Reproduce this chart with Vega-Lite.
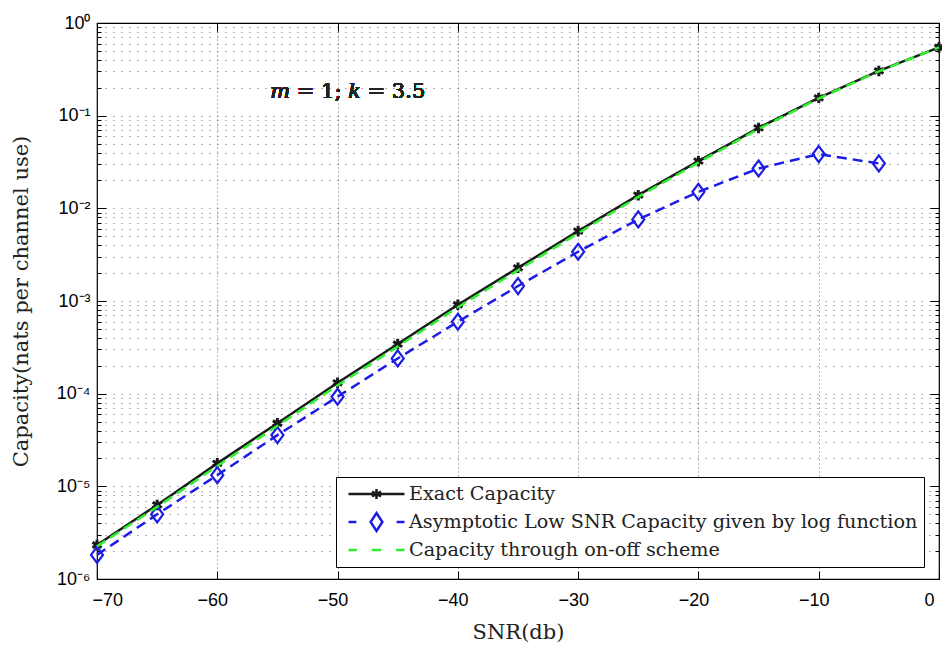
{
  "$schema": "https://vega.github.io/schema/vega-lite/v6.json",
  "width": 842,
  "height": 556,
  "autosize": {"type": "none"},
  "padding": {"left": 97, "top": 23, "right": 3, "bottom": 68},
  "background": "white",
  "config": {
    "view": {"stroke": "#000", "strokeWidth": 1.2},
    "axis": {
      "domain": false,
      "labelFont": "Liberation Sans",
      "labelFontSize": 18,
      "labelColor": "#000",
      "titleFont": "DejaVu Serif",
      "titleFontSize": 21,
      "titleFontWeight": "normal",
      "titleColor": "#222",
      "tickColor": "#000",
      "tickWidth": 1
    },
    "legend": {
      "strokeColor": "#000",
      "fillColor": "#fff",
      "padding": 6,
      "labelFont": "DejaVu Serif",
      "labelFontSize": 19.2,
      "labelColor": "#222",
      "labelLimit": 900,
      "symbolSize": 3136,
      "symbolStrokeWidth": 2.5,
      "symbolOpacity": 1,
      "symbolOffset": 5,
      "clipHeight": 22,
      "rowPadding": 6,
      "labelOffset": 3
    }
  },
  "data": {
    "values": [
      {"snr": -70, "cap": 2.33e-6, "series": "Exact Capacity"},
      {"snr": -65, "cap": 6.3e-6, "series": "Exact Capacity"},
      {"snr": -60, "cap": 1.77e-5, "series": "Exact Capacity"},
      {"snr": -55, "cap": 4.8e-5, "series": "Exact Capacity"},
      {"snr": -50, "cap": 1.31e-4, "series": "Exact Capacity"},
      {"snr": -45, "cap": 3.43e-4, "series": "Exact Capacity"},
      {"snr": -40, "cap": 9.1e-4, "series": "Exact Capacity"},
      {"snr": -35, "cap": 2.28e-3, "series": "Exact Capacity"},
      {"snr": -30, "cap": 5.68e-3, "series": "Exact Capacity"},
      {"snr": -25, "cap": 1.387e-2, "series": "Exact Capacity"},
      {"snr": -20, "cap": 3.23e-2, "series": "Exact Capacity"},
      {"snr": -15, "cap": 7.38e-2, "series": "Exact Capacity"},
      {"snr": -10, "cap": 0.1556, "series": "Exact Capacity"},
      {"snr": -5, "cap": 0.304, "series": "Exact Capacity"},
      {"snr": 0, "cap": 0.545, "series": "Exact Capacity"},
      {"snr": -70, "cap": 1.82e-6, "series": "Asymptotic Low SNR Capacity given by log function"},
      {"snr": -65, "cap": 4.99e-6, "series": "Asymptotic Low SNR Capacity given by log function"},
      {"snr": -60, "cap": 1.32e-5, "series": "Asymptotic Low SNR Capacity given by log function"},
      {"snr": -55, "cap": 3.57e-5, "series": "Asymptotic Low SNR Capacity given by log function"},
      {"snr": -50, "cap": 9.27e-5, "series": "Asymptotic Low SNR Capacity given by log function"},
      {"snr": -45, "cap": 2.4e-4, "series": "Asymptotic Low SNR Capacity given by log function"},
      {"snr": -40, "cap": 5.97e-4, "series": "Asymptotic Low SNR Capacity given by log function"},
      {"snr": -35, "cap": 1.45e-3, "series": "Asymptotic Low SNR Capacity given by log function"},
      {"snr": -30, "cap": 3.4e-3, "series": "Asymptotic Low SNR Capacity given by log function"},
      {"snr": -25, "cap": 7.6e-3, "series": "Asymptotic Low SNR Capacity given by log function"},
      {"snr": -20, "cap": 1.507e-2, "series": "Asymptotic Low SNR Capacity given by log function"},
      {"snr": -15, "cap": 2.69e-2, "series": "Asymptotic Low SNR Capacity given by log function"},
      {"snr": -10, "cap": 3.85e-2, "series": "Asymptotic Low SNR Capacity given by log function"},
      {"snr": -5, "cap": 3.05e-2, "series": "Asymptotic Low SNR Capacity given by log function"},
      {"snr": -70, "cap": 2.25e-6, "series": "Capacity through on-off scheme"},
      {"snr": -65, "cap": 6.0e-6, "series": "Capacity through on-off scheme"},
      {"snr": -60, "cap": 1.66e-5, "series": "Capacity through on-off scheme"},
      {"snr": -55, "cap": 4.5e-5, "series": "Capacity through on-off scheme"},
      {"snr": -50, "cap": 1.23e-4, "series": "Capacity through on-off scheme"},
      {"snr": -45, "cap": 3.22e-4, "series": "Capacity through on-off scheme"},
      {"snr": -40, "cap": 8.55e-4, "series": "Capacity through on-off scheme"},
      {"snr": -35, "cap": 2.15e-3, "series": "Capacity through on-off scheme"},
      {"snr": -30, "cap": 5.4e-3, "series": "Capacity through on-off scheme"},
      {"snr": -25, "cap": 1.33e-2, "series": "Capacity through on-off scheme"},
      {"snr": -20, "cap": 3.12e-2, "series": "Capacity through on-off scheme"},
      {"snr": -15, "cap": 7.2e-2, "series": "Capacity through on-off scheme"},
      {"snr": -10, "cap": 0.153, "series": "Capacity through on-off scheme"},
      {"snr": -5, "cap": 0.301, "series": "Capacity through on-off scheme"},
      {"snr": 0, "cap": 0.545, "series": "Capacity through on-off scheme"}
    ]
  },
  "layer": [
    {
      "transform": [{"filter": "datum.series === 'Exact Capacity'"}],
      "mark": {"type": "line", "color": "#1a1a1a", "strokeWidth": 2.5},
      "encoding": {
        "x": {
          "field": "snr", "type": "quantitative",
          "scale": {"domain": [-70, 0], "nice": false, "zero": false},
          "axis": {
            "orient": "bottom",
            "values": [-70, -60, -50, -40, -30, -20, -10, 0],
            "format": "d",
            "title": "SNR(db)",
            "tickSize": -8,
            "labelPadding": 20,
            "labelOffset": -5,
            "titlePadding": 12,
            "grid": true,
            "gridDash": [1, 3],
            "gridColor": "#000",
            "gridOpacity": 0.55
          }
        },
        "y": {
          "field": "cap", "type": "quantitative",
          "scale": {"type": "log", "domain": [1e-6, 1], "nice": false},
          "axis": {
            "orient": "left",
            "values": [1e-6, 2e-6, 3e-6, 4e-6, 5e-6, 6e-6, 7e-6, 8e-6, 9e-6, 1e-5, 2e-5, 3e-5, 4e-5, 5e-5, 6e-5, 7e-5, 8e-5, 9e-5, 1e-4, 2e-4, 3e-4, 4e-4, 5e-4, 6e-4, 7e-4, 8e-4, 9e-4, 1e-3, 2e-3, 3e-3, 4e-3, 5e-3, 6e-3, 7e-3, 8e-3, 9e-3, 1e-2, 2e-2, 3e-2, 4e-2, 5e-2, 6e-2, 7e-2, 8e-2, 9e-2, 0.1, 0.2, 0.3, 0.4, 0.5, 0.6, 0.7, 0.8, 0.9, 1],
            "labelExpr": "abs(log(datum.value)/LN10 - round(log(datum.value)/LN10)) < 0.001 ? '10' + (round(log(datum.value)/LN10) < 0 ? '⁻' : '') + ['⁰','¹','²','³','⁴','⁵','⁶'][abs(round(log(datum.value)/LN10))] : ''",
            "labelOverlap": false,
            "labelBound": false,
            "title": "Capacity(nats per channel use)",
            "tickSize": {"condition": {"test": "abs(log(datum.value)/LN10 - round(log(datum.value)/LN10)) < 0.001", "value": -9}, "value": -4},
            "labelPadding": 16,
            "titlePadding": 25,
            "grid": true,
            "gridDash": [1, 7],
            "gridColor": "#000",
            "gridOpacity": 0.6
          }
        }
      }
    },
    {
      "transform": [{"filter": "datum.series === 'Exact Capacity'"}],
      "mark": {"type": "point", "shape": "M0,-1V1M-0.87,-0.5L0.87,0.5M-0.87,0.5L0.87,-0.5", "size": 110, "filled": false, "color": "#1a1a1a", "strokeWidth": 3, "opacity": 1},
      "encoding": {
        "x": {"field": "snr", "type": "quantitative", "axis": null},
        "y": {"field": "cap", "type": "quantitative", "axis": null}
      }
    },
    {
      "transform": [{"filter": "datum.series === 'Asymptotic Low SNR Capacity given by log function'"}],
      "mark": {"type": "line", "color": "#1c1ce6", "strokeWidth": 2.5, "strokeDash": [10, 6]},
      "encoding": {
        "x": {"field": "snr", "type": "quantitative", "axis": null},
        "y": {"field": "cap", "type": "quantitative", "axis": null}
      }
    },
    {
      "transform": [{"filter": "datum.series === 'Asymptotic Low SNR Capacity given by log function'"}],
      "mark": {"type": "point", "shape": "M0,-1L0.75,0L0,1L-0.75,0Z", "size": 256, "filled": false, "color": "#1c1ce6", "strokeWidth": 2.2, "opacity": 1},
      "encoding": {
        "x": {"field": "snr", "type": "quantitative", "axis": null},
        "y": {"field": "cap", "type": "quantitative", "axis": null}
      }
    },
    {
      "transform": [{"filter": "datum.series === 'Capacity through on-off scheme'"}],
      "mark": {"type": "line", "color": "#2ef02e", "strokeWidth": 2.5, "strokeDash": [10, 6]},
      "encoding": {
        "x": {"field": "snr", "type": "quantitative", "axis": null},
        "y": {"field": "cap", "type": "quantitative", "axis": null}
      }
    },
    {
      "mark": {"type": "point", "filled": false, "opacity": 0},
      "encoding": {
        "x": {"field": "snr", "type": "quantitative", "axis": null},
        "y": {"field": "cap", "type": "quantitative", "axis": null},
        "color": {
          "field": "series", "type": "nominal",
          "scale": {"domain": ["Exact Capacity", "Asymptotic Low SNR Capacity given by log function", "Capacity through on-off scheme"], "range": ["#1a1a1a", "#1c1ce6", "#2ef02e"]},
          "legend": {"title": null, "orient": "none", "legendX": 239, "legendY": 454}
        },
        "shape": {
          "field": "series", "type": "nominal",
          "scale": {"domain": ["Exact Capacity", "Asymptotic Low SNR Capacity given by log function", "Capacity through on-off scheme"], "range": ["M-1,0H1M0,-0.18V0.18M-0.16,-0.09L0.16,0.09M-0.16,0.09L0.16,-0.09", "M-1,0H-0.72M0.72,0H1M0,-0.32L0.21,0L0,0.32L-0.21,0Z", "M-1,0H-0.7M-0.17,0H0.17M0.7,0H1"]},
          "legend": {"title": null, "orient": "none", "legendX": 239, "legendY": 454}
        }
      }
    },
    {
      "mark": {"type": "point", "opacity": 0},
      "encoding": {
        "x": {
          "field": "snr", "type": "quantitative",
          "axis": {"orient": "top", "values": [-70, -60, -50, -40, -30, -20, -10, 0], "labels": false, "title": null, "tickSize": -8, "grid": false}
        },
        "y": {
          "field": "cap", "type": "quantitative",
          "axis": {
            "orient": "right",
            "values": [1e-6, 2e-6, 3e-6, 4e-6, 5e-6, 6e-6, 7e-6, 8e-6, 9e-6, 1e-5, 2e-5, 3e-5, 4e-5, 5e-5, 6e-5, 7e-5, 8e-5, 9e-5, 1e-4, 2e-4, 3e-4, 4e-4, 5e-4, 6e-4, 7e-4, 8e-4, 9e-4, 1e-3, 2e-3, 3e-3, 4e-3, 5e-3, 6e-3, 7e-3, 8e-3, 9e-3, 1e-2, 2e-2, 3e-2, 4e-2, 5e-2, 6e-2, 7e-2, 8e-2, 9e-2, 0.1, 0.2, 0.3, 0.4, 0.5, 0.6, 0.7, 0.8, 0.9, 1],
            "labels": false, "title": null, "grid": false,
            "tickSize": {"condition": {"test": "abs(log(datum.value)/LN10 - round(log(datum.value)/LN10)) < 0.001", "value": -9}, "value": -4}
          }
        }
      }
    },
    {
      "mark": {"type": "text", "text": "𝑚 = 1;  𝑘 = 3.5", "align": "left", "baseline": "middle", "font": "DejaVu Serif", "fontSize": 21, "fontWeight": "normal", "color": "#222"},
      "encoding": {
        "x": {"datum": -55.6, "type": "quantitative", "axis": null},
        "y": {"datum": 0.179, "type": "quantitative", "axis": null}
      }
    }
  ],
  "resolve": {"axis": {"x": "independent", "y": "independent"}}
}
